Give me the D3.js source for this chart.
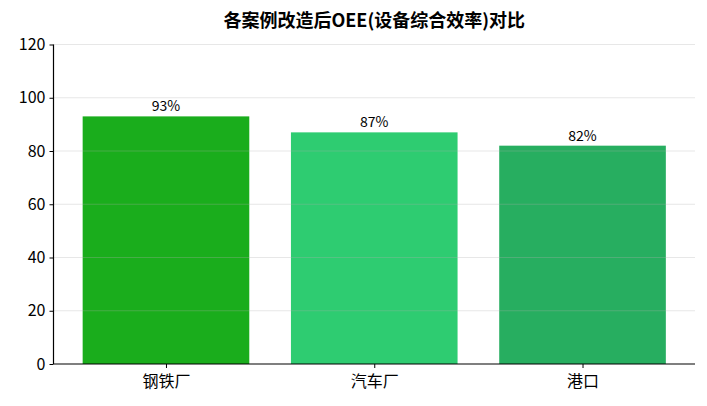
<!DOCTYPE html>
<html><head><meta charset="utf-8">
<script src="https://cdn.jsdelivr.net/npm/d3@7"></script>
<style>body{margin:0;background:#fff;} svg{display:block;font-family:"Noto Sans CJK SC","Noto Sans",sans-serif;}</style>
</head><body>
<svg id="c" width="707" height="406"></svg>
<script>
const categories = ["钢铁厂", "汽车厂", "港口"];
const oeeValues = [93, 87, 82];
const barColors = ["#1aad1c", "#2ecc71", "#27ae60"];
const yTicks = [0, 20, 40, 60, 80, 100, 120];
const title = "各案例改造后OEE(设备综合效率)对比";

const svg = d3.select("#c");
const L = 53.5, R = 695, T = 44.5, B = 364;
const x = d3.scaleLinear().domain([-0.54, 2.54]).range([L, R]);
const y = d3.scaleLinear().domain([0, 120]).range([B, T]);
const bw = x(0.8) - x(0);

// bars
svg.selectAll("rect.bar").data(oeeValues).enter().append("rect")
  .attr("x", (d, i) => x(i) - bw / 2)
  .attr("y", d => y(d))
  .attr("width", bw)
  .attr("height", d => y(0) - y(d))
  .attr("fill", (d, i) => barColors[i]);

// grid on top
svg.selectAll("line.grid").data(yTicks.filter(t => t > 0)).enter().append("line")
  .attr("x1", L).attr("x2", R)
  .attr("y1", d => y(d)).attr("y2", d => y(d))
  .attr("stroke", "#b0b0b0").attr("stroke-opacity", 0.3).attr("stroke-width", 1);

// value labels
svg.selectAll("text.val").data(oeeValues).enter().append("text")
  .attr("x", (d, i) => x(i))
  .attr("y", d => y(d) - 5)
  .attr("text-anchor", "middle")
  .attr("font-size", 14)
  .attr("fill", "#000")
  .text(d => d + "%");

// y axis
const yAxis = d3.axisLeft(y).tickValues(yTicks).tickSize(4).tickPadding(4);
const gy = svg.append("g").attr("transform", `translate(${L},0)`).call(yAxis);
gy.selectAll("text").attr("font-size", 16).attr("fill", "#000").attr("font-family", "\"Noto Sans CJK SC\",sans-serif");
gy.select(".domain").attr("stroke", "#000").attr("stroke-width", 1.2).attr("d", `M0,${B}V${T}`);
gy.selectAll(".tick line").attr("stroke", "#000");

// x axis
const xAxis = d3.axisBottom(x).tickValues([0, 1, 2]).tickFormat((d) => categories[d]).tickSize(4).tickPadding(8);
const gx = svg.append("g").attr("transform", `translate(0,${B})`).call(xAxis);
gx.selectAll("text").attr("font-size", 16).attr("fill", "#000").attr("font-family", "\"Noto Sans CJK SC\",sans-serif");
gx.select(".domain").attr("stroke", "#000").attr("stroke-width", 1.2).attr("d", `M${L},0H${R}`);
gx.selectAll(".tick line").attr("stroke", "#000");

// title
svg.append("text").attr("x", (L + R) / 2).attr("y", 27)
  .attr("text-anchor", "middle").attr("font-size", 18).attr("font-weight", "bold")
  .attr("fill", "#000").text(title);
</script>
</body></html>
